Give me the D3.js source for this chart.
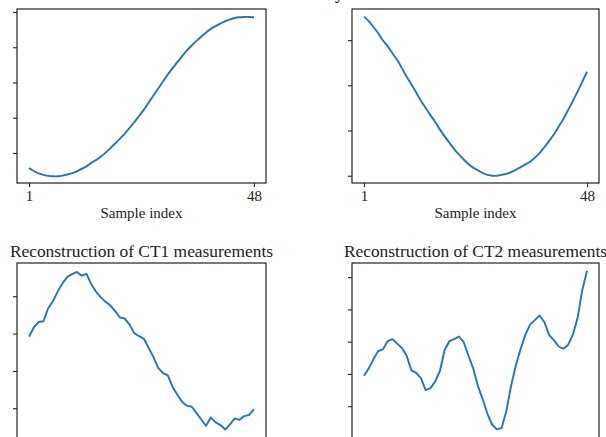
<!DOCTYPE html>
<html>
<head>
<meta charset="utf-8">
<script src="https://cdn.jsdelivr.net/npm/d3@7"></script>
<style>
  html, body { margin: 0; padding: 0; background: #fff; overflow: hidden; }
  svg { display: block; }
  text { font-family: "Liberation Serif", "Times New Roman", "DejaVu Serif", serif; fill: #222; }
</style>
</head>
<body>
<svg id="chart" width="606" height="437"></svg>
<script>
// ---- data ----
const sampleIndex = d3.range(1, 49);           // samples 1..48
const xTickLabels = [1, 48];
const yTickValues = [0, 1, 2, 3, 4];
const xAxisLabel = "Sample index";
const titleCT1 = "Reconstruction of CT1 measurements";
const titleCT2 = "Reconstruction of CT2 measurements";

const seriesCT1Input = [
  -0.43,-0.51,-0.58,-0.62,-0.65,-0.66,-0.66,-0.64,-0.61,-0.57,-0.52,-0.45,
  -0.38,-0.28,-0.20,-0.10, 0.01, 0.14, 0.27, 0.41, 0.55, 0.71, 0.88, 1.05,
   1.23, 1.43, 1.63, 1.83, 2.03, 2.23, 2.41, 2.58, 2.75, 2.91, 3.05, 3.18,
   3.30, 3.42, 3.52, 3.60, 3.67, 3.74, 3.79, 3.83, 3.85, 3.86, 3.86, 3.85];

const seriesCT2Input = [
   3.52, 3.42, 3.29, 3.15, 2.99, 2.86, 2.71, 2.56, 2.38, 2.19, 2.02, 1.84,
   1.66, 1.50, 1.34, 1.19, 1.02, 0.87, 0.73, 0.59, 0.47, 0.36, 0.26, 0.18,
   0.12, 0.06, 0.02, 0.00, 0.00, 0.02, 0.04, 0.08, 0.13, 0.19, 0.25, 0.31,
   0.40, 0.50, 0.63, 0.77, 0.91, 1.08, 1.25, 1.45, 1.65, 1.86, 2.08, 2.30];

const seriesCT1Recon = [
   1.92, 2.17, 2.31, 2.33, 2.68, 2.87, 3.13, 3.35, 3.52, 3.59, 3.65, 3.55,
   3.60, 3.32, 3.12, 2.97, 2.85, 2.75, 2.60, 2.43, 2.40, 2.24, 2.01, 1.93,
   1.86, 1.62, 1.37, 1.08, 0.94, 0.88, 0.57, 0.36, 0.17, 0.07, 0.04,-0.13,
  -0.30,-0.47,-0.25,-0.38,-0.45,-0.57,-0.43,-0.27,-0.31,-0.21,-0.18,-0.03];

const seriesCT2Recon = [
   0.94, 1.17, 1.46, 1.71, 1.76, 2.02, 2.08, 1.94, 1.80, 1.56, 1.11, 1.03,
   0.87, 0.50, 0.56, 0.76, 1.09, 1.74, 2.02, 2.08, 2.16, 1.99, 1.57, 1.18,
   0.63, 0.22,-0.23,-0.57,-0.72,-0.68,-0.15, 0.63, 1.26, 1.77, 2.21, 2.53,
   2.67, 2.81, 2.61, 2.21, 2.05, 1.85, 1.78, 1.90, 2.21, 2.73, 3.60, 4.20];

// ---- layout ----
const svg = d3.select("#chart");
const lineColor = "#1f77b4";
const spineColor = "#222";

const panels = [
  { values: seriesCT1Input, left: 17, right: 266, top: 9,   bottom: 183, yDomain: [-0.851, 4.085], xAxis: true, smooth: true, ticks: [0,1,2,3,4] },
  { values: seriesCT2Input, left: 352, right: 599, top: 9,  bottom: 183, yDomain: [-0.161, 3.688], xAxis: true, smooth: true, ticks: [0,1,2,3] },
  { values: seriesCT1Recon, left: 17, right: 266, top: 263, bottom: 440, yDomain: [-0.85, 3.89],  title: titleCT1, ticks: [0,1,2,3] },
  { values: seriesCT2Recon, left: 352, right: 599, top: 263, bottom: 440, yDomain: [-1.05, 4.44], title: titleCT2, ticks: yTickValues }
];

panels.forEach(p => {
  const w = p.right - p.left, h = p.bottom - p.top;
  const g = svg.append("g").attr("transform", `translate(${p.left},${p.top})`);
  const pad = w * 0.0485;
  const x = d3.scaleLinear().domain([1, 48]).range([pad, w - pad]);
  const y = d3.scaleLinear().domain(p.yDomain).range([h, 0]);

  // y axis ticks (no labels)
  const ya = g.append("g").call(d3.axisLeft(y).tickValues(p.ticks).tickFormat("").tickSize(4));
  ya.select(".domain").remove();
  ya.selectAll(".tick line").attr("stroke", spineColor).attr("stroke-width", 1.1);

  // x axis ticks (only for the panels whose x axis lies inside the frame)
  if (p.xAxis) {
    const xa = g.append("g").attr("transform", `translate(0,${h})`)
      .call(d3.axisBottom(x).tickValues(xTickLabels).tickSize(4).tickPadding(3));
    xa.select(".domain").remove();
    xa.selectAll(".tick line").attr("stroke", spineColor).attr("stroke-width", 1.1);
    xa.selectAll(".tick text").style("font-family", "Liberation Serif, serif").style("font-size", "15px").attr("fill", "#222");
    g.append("text").attr("x", w / 2).attr("y", h + 35).attr("text-anchor", "middle")
      .style("font-size", "15px").text(xAxisLabel);
  }

  // line
  const lineGen = d3.line().x((d, i) => x(sampleIndex[i])).y(d => y(d));
  if (p.smooth) lineGen.curve(d3.curveCatmullRom);
  g.append("path")
    .datum(p.values)
    .attr("fill", "none")
    .attr("stroke", lineColor)
    .attr("stroke-width", 1.9)
    .attr("stroke-linejoin", "round")
    .attr("d", lineGen);

  // frame
  g.append("rect").attr("x", 0).attr("y", 0).attr("width", w).attr("height", h)
    .attr("fill", "none").attr("stroke", spineColor).attr("stroke-width", 1.2);

  if (p.title) {
    g.append("text").attr("x", w / 2).attr("y", -6).attr("text-anchor", "middle")
      .style("font-size", "17.4px").text(p.title);
  }
});

// cropped figure title (only the descender is visible in the frame)
svg.append("text").attr("x", 335).attr("y", -1).style("font-size", "17px").style("font-weight", "bold").text("y");
</script>
</body>
</html>
